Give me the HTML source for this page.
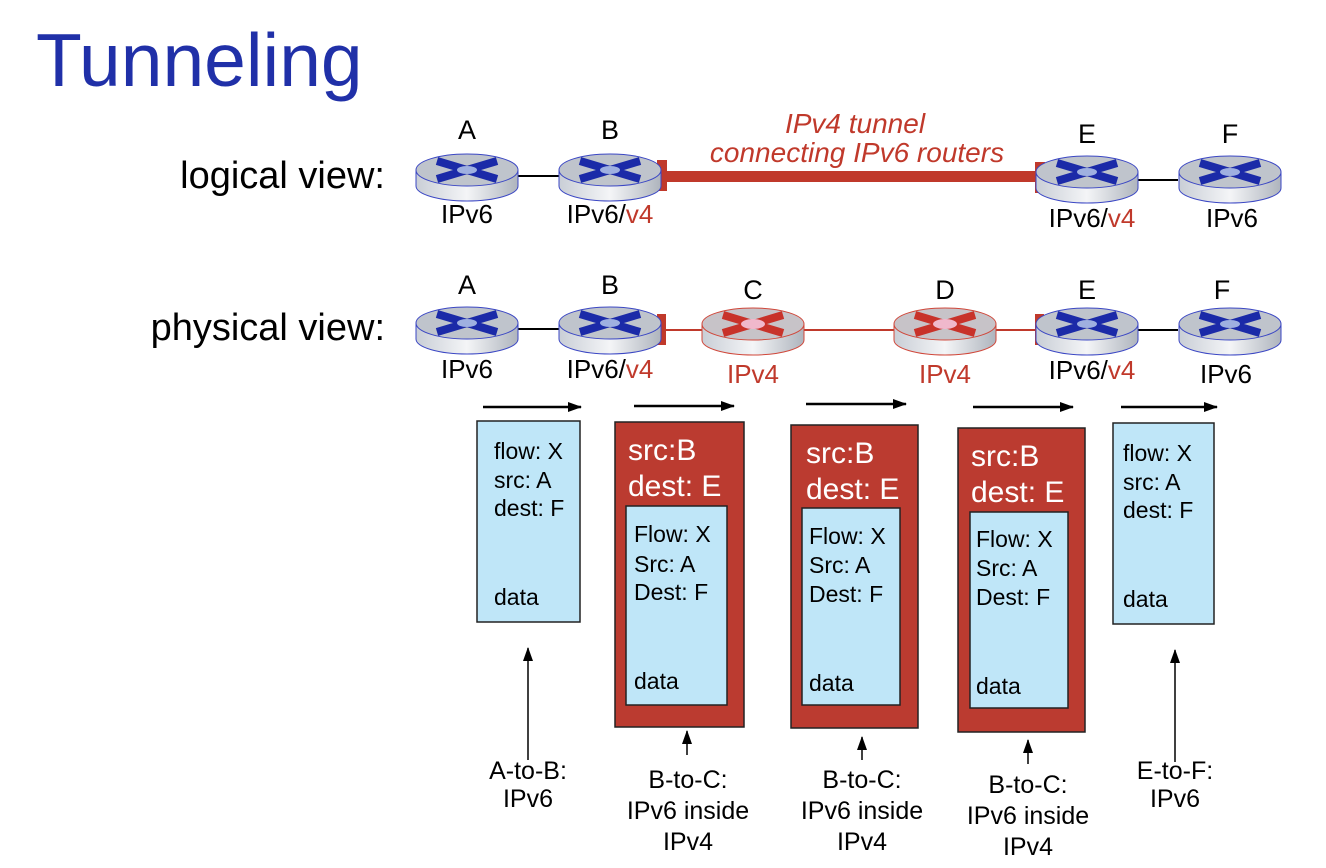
<!DOCTYPE html>
<html><head><meta charset="utf-8"><style>
html,body{margin:0;padding:0;background:#fff;}
svg{display:block;font-family:"Liberation Sans",sans-serif;}
</style></head><body>
<svg width="1326" height="868" viewBox="0 0 1326 868" xmlns="http://www.w3.org/2000/svg">
<defs>
<linearGradient id="cyl" x1="0" x2="1" y1="0" y2="0">
<stop offset="0" stop-color="#c9ced6"/><stop offset="0.5" stop-color="#f4f5f7"/><stop offset="1" stop-color="#aeb4bd"/>
</linearGradient>
<marker id="ah" markerWidth="14" markerHeight="10" refX="13" refY="5" orient="auto" markerUnits="userSpaceOnUse">
<path d="M0,0 L14,5 L0,10 z" fill="#000"/></marker>
<g id="rb">
<path d="M-51,-6 L-51,10 A51,15 0 0 0 51,10 L51,-6 Z" fill="url(#cyl)" stroke="#3b47c4" stroke-width="1"/>
<ellipse cx="0" cy="-6" rx="51" ry="16" fill="#bfc4cc" stroke="#3b47c4" stroke-width="1"/>
<path d="M-30,-15 L30,3 M30,-15 L-30,3" stroke="#1b2aa8" stroke-width="8"/>
<ellipse cx="0" cy="-6" rx="10" ry="4" fill="#9fb0e0"/>
</g>
<g id="rr">
<path d="M-51,-6 L-51,10 A51,15 0 0 0 51,10 L51,-6 Z" fill="url(#cyl)" stroke="#d0473a" stroke-width="1"/>
<ellipse cx="0" cy="-6" rx="51" ry="16" fill="#c7c3c8" stroke="#d0473a" stroke-width="1"/>
<path d="M-30,-15 L30,3 M30,-15 L-30,3" stroke="#c8322a" stroke-width="8"/>
<ellipse cx="0" cy="-6" rx="12" ry="5" fill="#f0b8cc"/>
</g>
</defs>

<text x="36" y="86" font-size="75" fill="#2030a8">Tunneling</text>

<!-- logical -->
<text x="385" y="188" font-size="38" text-anchor="end">logical view:</text>
<line x1="518" y1="176" x2="560" y2="176" stroke="#000" stroke-width="2"/>
<line x1="1136" y1="180" x2="1178" y2="180" stroke="#000" stroke-width="2"/>
<rect x="662" y="171" width="380" height="11" fill="#c0392b"/>
<rect x="657" y="160" width="10" height="31" fill="#c0392b"/>
<rect x="1035" y="162" width="10" height="31" fill="#c0392b"/>
<use href="#rb" x="467" y="176"/><use href="#rb" x="610" y="176"/>
<use href="#rb" x="1087" y="178"/><use href="#rb" x="1230" y="178"/>
<g font-size="27" text-anchor="middle">
<text x="467" y="139">A</text><text x="610" y="139">B</text>
<text x="1087" y="143">E</text><text x="1230" y="143">F</text>
</g>
<g font-size="26" text-anchor="middle">
<text x="467" y="223">IPv6</text>
<text x="610" y="223">IPv6/<tspan fill="#c0392b">v4</tspan></text>
<text x="1092" y="227">IPv6/<tspan fill="#c0392b">v4</tspan></text>
<text x="1232" y="227">IPv6</text>
</g>
<g font-size="28" font-style="italic" fill="#c0392b" text-anchor="middle">
<text x="855" y="133">IPv4 tunnel</text>
<text x="857" y="162">connecting IPv6 routers</text>
</g>

<!-- physical -->
<text x="385" y="340" font-size="38" text-anchor="end">physical view:</text>
<line x1="518" y1="329" x2="560" y2="329" stroke="#000" stroke-width="2"/>
<line x1="660" y1="330" x2="945" y2="330" stroke="#c0392b" stroke-width="2"/>
<line x1="945" y1="330" x2="1040" y2="330" stroke="#c0392b" stroke-width="2"/>
<line x1="1136" y1="330" x2="1178" y2="330" stroke="#000" stroke-width="2"/>
<rect x="657" y="314" width="9" height="31" fill="#c0392b"/>
<rect x="1035" y="314" width="9" height="31" fill="#c0392b"/>
<use href="#rb" x="467" y="329"/><use href="#rb" x="610" y="329"/>
<use href="#rr" x="753" y="330"/><use href="#rr" x="945" y="330"/>
<use href="#rb" x="1087" y="330"/><use href="#rb" x="1230" y="330"/>
<g font-size="27" text-anchor="middle">
<text x="467" y="294">A</text><text x="610" y="294">B</text>
<text x="753" y="299">C</text><text x="945" y="299">D</text>
<text x="1087" y="299">E</text><text x="1222" y="299">F</text>
</g>
<g font-size="26" text-anchor="middle">
<text x="467" y="378">IPv6</text>
<text x="610" y="378">IPv6/<tspan fill="#c0392b">v4</tspan></text>
<text x="753" y="383" fill="#c0392b">IPv4</text>
<text x="945" y="383" fill="#c0392b">IPv4</text>
<text x="1092" y="379">IPv6/<tspan fill="#c0392b">v4</tspan></text>
<text x="1226" y="383">IPv6</text>
</g>

<!-- arrows above packets -->
<g stroke="#000" stroke-width="2.5" marker-end="url(#ah)">
<line x1="483" y1="407" x2="581" y2="407"/>
<line x1="634" y1="406" x2="734" y2="406"/>
<line x1="806" y1="404" x2="906" y2="404"/>
<line x1="973" y1="407" x2="1073" y2="407"/>
<line x1="1121" y1="407" x2="1217" y2="407"/>
</g>

<!-- packets -->
<g font-size="23">
<rect x="477" y="421" width="103" height="201" fill="#bfe6f8" stroke="#222" stroke-width="1.5"/>
<text x="494" y="459">flow: X</text><text x="494" y="488">src: A</text><text x="494" y="516">dest: F</text><text x="494" y="605">data</text>

<rect x="1113" y="423" width="101" height="201" fill="#bfe6f8" stroke="#222" stroke-width="1.5"/>
<text x="1123" y="461">flow: X</text><text x="1123" y="490">src: A</text><text x="1123" y="518">dest: F</text><text x="1123" y="607">data</text>

<rect x="615" y="422" width="129" height="305" fill="#bb3b30" stroke="#222" stroke-width="1.5"/>
<text x="628" y="460" font-size="30" fill="#fff">src:B</text><text x="628" y="496" font-size="30" fill="#fff">dest: E</text>
<rect x="626" y="506" width="101" height="199" fill="#bfe6f8" stroke="#222" stroke-width="1.5"/>
<text x="634" y="542">Flow: X</text><text x="634" y="572">Src: A</text><text x="634" y="600">Dest: F</text><text x="634" y="689">data</text>

<rect x="791" y="425" width="127" height="303" fill="#bb3b30" stroke="#222" stroke-width="1.5"/>
<text x="806" y="463" font-size="30" fill="#fff">src:B</text><text x="806" y="499" font-size="30" fill="#fff">dest: E</text>
<rect x="802" y="508" width="98" height="197" fill="#bfe6f8" stroke="#222" stroke-width="1.5"/>
<text x="809" y="544">Flow: X</text><text x="809" y="573">Src: A</text><text x="809" y="602">Dest: F</text><text x="809" y="691">data</text>

<rect x="958" y="428" width="127" height="304" fill="#bb3b30" stroke="#222" stroke-width="1.5"/>
<text x="971" y="466" font-size="30" fill="#fff">src:B</text><text x="971" y="502" font-size="30" fill="#fff">dest: E</text>
<rect x="970" y="512" width="98" height="196" fill="#bfe6f8" stroke="#222" stroke-width="1.5"/>
<text x="976" y="547">Flow: X</text><text x="976" y="576">Src: A</text><text x="976" y="605">Dest: F</text><text x="976" y="694">data</text>
</g>

<!-- bottom arrows -->
<g stroke="#000" stroke-width="1.5" marker-end="url(#ah)">
<line x1="528" y1="760" x2="528" y2="648"/>
<line x1="687" y1="755" x2="687" y2="731"/>
<line x1="862" y1="760" x2="862" y2="737"/>
<line x1="1028" y1="764" x2="1028" y2="740"/>
<line x1="1175" y1="762" x2="1175" y2="650"/>
</g>
<g font-size="25" text-anchor="middle">
<text x="528" y="779">A-to-B:</text><text x="528" y="807">IPv6</text>
<text x="688" y="788">B-to-C:</text><text x="688" y="819">IPv6 inside</text><text x="688" y="850">IPv4</text>
<text x="862" y="788">B-to-C:</text><text x="862" y="819">IPv6 inside</text><text x="862" y="850">IPv4</text>
<text x="1028" y="793">B-to-C:</text><text x="1028" y="824">IPv6 inside</text><text x="1028" y="855">IPv4</text>
<text x="1175" y="779">E-to-F:</text><text x="1175" y="807">IPv6</text>
</g>
</svg>
</body></html>
